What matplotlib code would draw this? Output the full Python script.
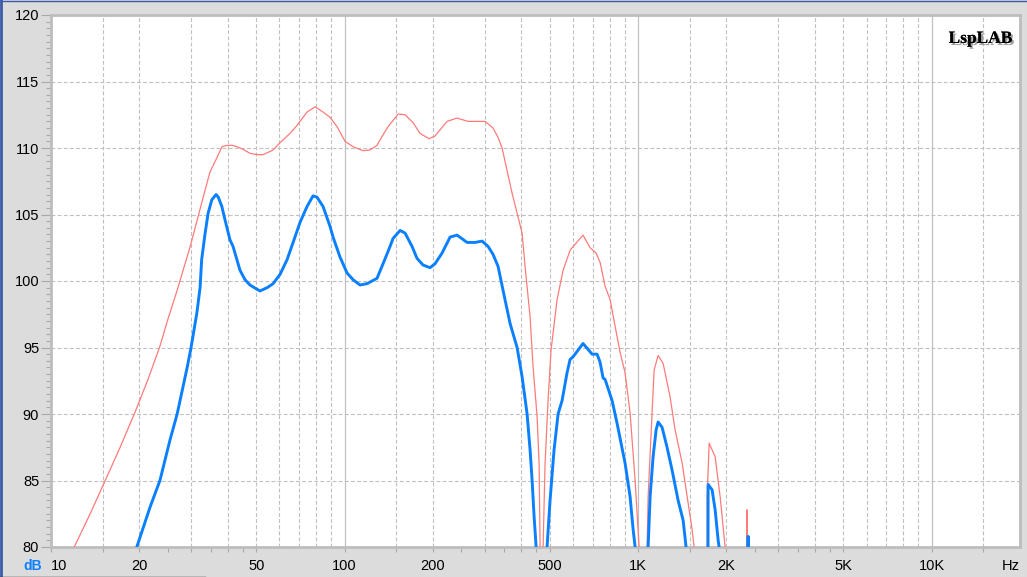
import matplotlib
matplotlib.use("Agg")
import matplotlib.pyplot as plt
import matplotlib.patheffects as pe
from matplotlib.lines import Line2D

# Red curve (upper, thin) - Hz / dB
red_freq = [12.0, 13.6, 15.3, 17.2, 19.3, 21.4, 23.5, 25.0, 26.9, 29.8, 33.0, 34.8,
            36.8, 38.25, 39.8, 41.4, 43.0, 45.1, 47.6, 50.3, 52.8, 57.1, 60.3, 65.2,
            68.9, 70.5, 74.5, 79.4, 84.5, 89.3, 94.3, 100.4, 106.9, 115.6, 122.1,
            129.0, 135.3, 140.7, 152.2, 160.8, 171.2, 180.8, 194.1, 203.4, 223.5,
            241.7, 263.5, 282.8, 301.1, 320.6, 333.4, 344.1, 357.8, 372.2, 387.1,
            402.6, 412.1, 428.6, 438.9, 452.9, 460.0, 463.7, 470.0, 474.7, 482.1,
            493.5, 505.2, 529.7, 555.1, 586.5, 595.7, 649.4, 686.2, 719.3, 742.3,
            772.0, 803.0, 835.0, 869.0, 903.0, 939.0, 977.0, 1000, 1008, 1040, 1073,
            1082, 1116, 1134, 1170, 1217, 1285, 1337, 1413, 1469, 1528, 1552, 1600,
            1715, 1719, 1746, 1830, 1903, 1979, 2050, 2340, 2352, 2362, 2400]
red_db = [80.0, 82.5, 85.0, 87.5, 90.1, 92.6, 95.1, 97.1, 99.3, 102.6, 106.3, 108.2,
          109.3, 110.1, 110.2, 110.2, 110.1, 109.9, 109.6, 109.5, 109.5, 109.85, 110.4, 111.1,
          111.7, 112.0, 112.7, 113.1, 112.7, 112.3, 111.6, 110.5, 110.1, 109.8, 109.85,
          110.2, 111.0, 111.6, 112.55, 112.5, 111.9, 111.1, 110.7, 110.9, 112.0,
          112.25, 112.0, 112.0, 112.0, 111.5, 110.8, 110.0, 108.3, 106.6, 105.1,
          103.6, 101.1, 97.3, 93.5, 89.8, 86.3, 80.0, 60.0, 80.0, 86.3,
          91.0, 94.8, 98.6, 100.8, 102.3, 102.5, 103.45, 102.5, 102.1, 101.4,
          99.6, 98.6, 96.6, 94.6, 93.1, 90.1, 85.0, 81.3, 80.0, 60.0, 80.0,
          83.8, 90.1, 93.3, 94.4, 93.8, 91.3, 88.8, 86.3, 83.8, 81.3, 80.0, 60.0,
          60.0, 83.8, 87.8, 86.8, 83.8, 80.0, 60.0, 60.0, 82.8, 60.0, 60.0]

# Blue curve (lower, thick)
blue_freq = [19.6, 21.75, 23.5, 25.4, 26.9, 29.1, 30.0, 31.4, 32.2, 32.6, 33.5, 34.3,
             35.3, 36.5, 37.15, 38.2, 39.15, 40.7, 41.7, 44.05, 45.8, 47.6, 51.5, 54.5,
             57.1, 60.3, 63.7, 66.8, 70.5, 74.5, 78.1, 80.6, 84.5, 89.25, 91.4, 96.5,
             102.0, 106.9, 112.9, 119.3, 129.0, 135.3, 142.9, 146.3, 154.6, 160.8,
             169.8, 176.6, 185.1, 195.6, 203.4, 214.9, 228.8, 241.7, 261.5, 278.4,
             294.1, 308.3, 320.6, 333.4, 346.7, 366.4, 387.1, 402.6, 418.7, 428.6,
             435.5, 442.3, 449.4, 460.0, 489.7, 501.3, 517.3, 533.9, 550.8, 572.8,
             586.5, 600.4, 649.4, 697.0, 725.0, 742.0, 760.0, 772.0, 815.7, 848.0,
             903.0, 939.0, 962.0, 977.0, 1020, 1082, 1099, 1125, 1152, 1170, 1207,
             1255, 1305, 1369, 1424, 1457, 1600, 1725, 1732, 1787, 1830, 1874, 1888,
             1950, 2360, 2371, 2380]
blue_db = [80.0, 83.0, 85.0, 88.0, 90.0, 93.5, 95.0, 97.6, 99.5, 101.6, 103.6, 105.1,
           106.1, 106.5, 106.3, 105.6, 104.6, 103.1, 102.6, 100.8, 100.1, 99.7, 99.25, 99.5,
           99.8, 100.5, 101.6, 102.9, 104.4, 105.6, 106.4, 106.3, 105.6, 104.1, 103.3, 101.8,
           100.6, 100.1, 99.7, 99.8, 100.2, 101.3, 102.6, 103.2, 103.8, 103.6,
           102.6, 101.7, 101.2, 101.0, 101.3, 102.1, 103.3, 103.45, 102.9, 102.9,
           103.0, 102.6, 102.0, 101.1, 99.3, 96.8, 95.0, 92.8, 90.0, 87.3,
           85.0, 82.3, 80.0, 60.0, 80.0, 83.5, 87.3, 90.0, 91.0, 93.1,
           94.1, 94.3, 95.3, 94.5, 94.5, 93.9, 92.7, 92.6, 91.0, 89.3,
           86.3, 83.8, 81.3, 80.0, 60.0, 80.0, 83.8, 86.8, 88.8, 89.4, 89.0,
           87.5, 85.8, 83.5, 82.0, 80.0, 60.0, 60.0, 84.7, 84.3, 82.8, 80.5, 80.0,
           60.0, 60.0, 80.8, 60.0]

x_ticks = [10, 20, 50, 100, 200, 500, 1000, 2000, 5000, 10000]
x_labels = ["10", "20", "50", "100", "200", "500", "1K", "2K", "5K", "10K"]
y_ticks = [80, 85, 90, 95, 100, 105, 110, 115, 120]

F_MIN, F_MAX = 10, 20000
GRID = "#C0C0C0"
BG = "#DCDCDC"


def main():
    fig = plt.figure(figsize=(10.27, 5.77), dpi=100, facecolor=BG)
    W, H = 1027.0, 577.0
    ax = fig.add_axes([51 / W, 1 - 547 / H, (1020 - 51) / W, (547 - 15) / H])
    ax.set_facecolor("white")
    ax.set_xscale("log")

    # grid: dashed at 1.5..9 per decade, solid at decades
    for dec in [10, 100, 1000, 10000]:
        for m in [1.5, 2, 3, 4, 5, 6, 7, 8, 9]:
            if dec * m < F_MAX:
                ax.axvline(dec * m, color=GRID, lw=0.8, ls=(0, (3.5, 2)), zorder=1)
        if dec > F_MIN:
            ax.axvline(dec, color=GRID, lw=0.9, zorder=1)
    for y in y_ticks[1:-1]:
        ax.axhline(y, color=GRID, lw=0.8, ls=(0, (3.5, 2)), zorder=1)

    ax.plot(red_freq, red_db, color="#FF7A7A", lw=0.9, zorder=3)
    ax.plot(blue_freq, blue_db, color="#0A80FF", lw=2.1, zorder=4)

    for s in ax.spines.values():
        s.set_color("#BDBDBD")
        s.set_linewidth(2.0)

    ax.set_xticks(x_ticks)
    ax.set_xticklabels(x_labels)
    minor = []
    for dec in [10, 100, 1000, 10000]:
        for m in [1.5, 2.5, 3, 3.5, 4, 4.5]:
            if dec * m < F_MAX:
                minor.append(dec * m)
    ax.set_xticks(minor, minor=True)
    ax.set_xticklabels([], minor=True)
    ax.set_yticks(y_ticks)
    ax.set_yticks([80 + 0.5 * i for i in range(81)], minor=True)
    ax.set_xlim(F_MIN, F_MAX)
    ax.set_ylim(80, 120)

    ax.tick_params(axis="x", which="both", direction="out", length=3.6, width=0.8,
                   color="#A8A8A8", pad=5, labelsize=10.5)
    ax.tick_params(axis="y", which="major", direction="out", length=7, width=0.8,
                   color="#A8A8A8", pad=1.5, labelsize=10.5)
    ax.tick_params(axis="y", which="minor", direction="out", length=3.6, width=0.8,
                   color="#A8A8A8")
    for lab in ax.get_xticklabels() + ax.get_yticklabels():
        lab.set_fontfamily("Liberation Sans")
    ax.get_xticklabels()[0].set_horizontalalignment("left")

    fig.text(23 / W, 1 - 566 / H, "dB", color="#0A80FF", fontsize=10,
             fontweight="bold", family="Liberation Sans", va="center", ha="left")
    fig.text(1020 / W, 1 - 566 / H, "Hz", color="black", fontsize=10.5,
             family="Liberation Sans", va="center", ha="right")

    ax.text(0.992, 0.97, "LspLAB", transform=ax.transAxes, ha="right", va="top",
            fontsize=12.5, fontweight="bold", family="Liberation Serif", zorder=6,
            path_effects=[pe.withSimplePatchShadow(offset=(1.5, -1.5),
                                                   shadow_rgbFace="#888888", alpha=0.8),
                          pe.Normal()])

    # window frame bits
    fig.add_artist(Line2D([0.001, 0.001], [0, 1], color="#3C5CA8", lw=2.0))
    fig.add_artist(Line2D([0, 1], [0.999, 0.999], color="#3C5CA8", lw=1.0))
    fig.add_artist(Line2D([0, 205 / W], [0.0008, 0.0008], color="#202020", lw=1.0))

    fig.savefig("out.png", dpi=100, facecolor=BG)


if __name__ == "__main__":
    main()
